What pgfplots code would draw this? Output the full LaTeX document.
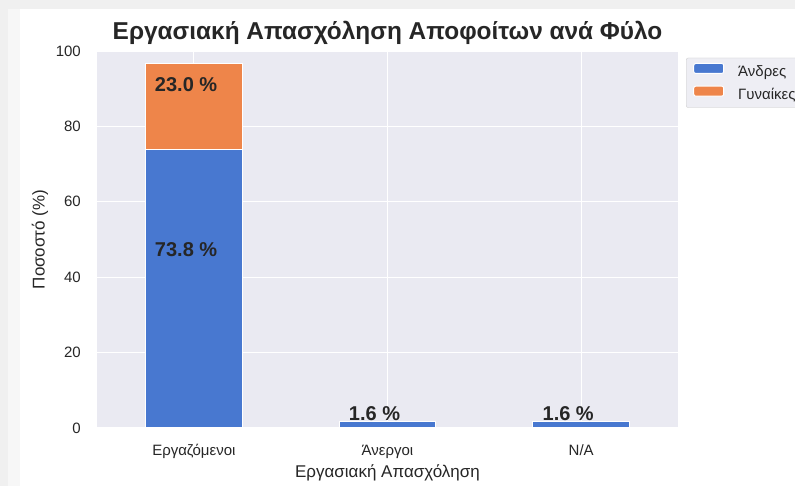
\documentclass[border=0pt]{standalone}
\usepackage{fontspec}
\setmainfont{Liberation Sans}
\usepackage{pgfplots}
\pgfplotsset{compat=1.18}
\definecolor{bgax}{HTML}{EAEAF2}
\definecolor{men}{HTML}{4878D0}
\definecolor{women}{HTML}{EE854A}
\definecolor{txt}{HTML}{262626}
\definecolor{legbg}{HTML}{EEEEF4}
\definecolor{legedge}{HTML}{CCCCCC}
\begin{document}
\begin{tikzpicture}[x=1bp,y=1bp]
\useasboundingbox (0,0) rectangle (795,486);
\fill[black!6] (0,0) rectangle (795,486);
\fill[black!3] (8,0) rectangle (20,477);
\fill[white] (20,0) rectangle (795,477);
\begin{axis}[
 at={(97bp,58bp)}, anchor=south west,
 scale only axis, width=581bp, height=377bp,
 xmin=-0.5, xmax=2.5, ymin=0, ymax=100,
 ybar stacked, bar width=0.5,
 axis background/.style={fill=bgax},
 axis line style={draw=none},
 major tick length=0pt,
 grid=major, grid style={white, line width=1.2bp},
 xtick={0,1,2}, xticklabels={Εργαζόμενοι,Άνεργοι,N/A},
 ytick={0,20,...,100},
 tick label style={font=\fontsize{15bp}{18bp}\selectfont, text=txt},
 /pgf/number format/assume math mode=true,
 yticklabel style={anchor=east, inner sep=0pt, xshift=-16bp},
 xticklabel style={anchor=base, inner sep=0pt, yshift=-28bp},
 xlabel={Εργασιακή Απασχόληση}, ylabel={Ποσοστό (\%)},
 label style={font=\fontsize{17bp}{20bp}\selectfont, text=txt},
 xlabel style={at={(axis description cs:0.5,0)}, anchor=base, inner sep=0pt, yshift=-50bp},
 ylabel style={at={(axis description cs:-0.0981,0.5)}, anchor=center, inner sep=0pt},
 title={Εργασιακή Απασχόληση Αποφοίτων ανά Φύλο},
 title style={at={(axis description cs:0.5,1)}, anchor=base, inner sep=0pt, yshift=6bp, font=\bfseries\fontsize{24.4bp}{28bp}\selectfont, text=txt},
 legend cell align=left,
 legend style={at={(axis description cs:1.0138,0.982)}, anchor=north west, fill=legbg, draw=legedge, rounded corners=2bp, font=\fontsize{15bp}{18bp}\selectfont, text=txt, inner xsep=7bp, inner ysep=5bp, row sep=6bp, column sep=12bp, cells={anchor=west, inner sep=0pt}},
 legend image code/.code={\fill[#1] (0bp,-2bp) rectangle (30bp,8bp);},
 clip=false,
]
\addplot[fill=men, draw=white, line width=1bp] coordinates {(0,73.8) (1,1.6) (2,1.6)};
\addplot[fill=women, draw=white, line width=1bp] coordinates {(0,23.0) (1,0) (2,0)};
\legend{Άνδρες,Γυναίκες}
\coordinate (la) at (axis cs:-0.04,47.3);
\coordinate (lb) at (axis cs:-0.04,91);
\coordinate (lc) at (axis cs:0.933,3.8);
\coordinate (ld) at (axis cs:1.933,3.8);
\end{axis}
\tikzset{lab/.style={font=\bfseries\fontsize{20bp}{24bp}\selectfont, text=txt}}
\node[lab] at (la) {73.8 \%};
\node[lab] at (lb) {23.0 \%};
\node[lab] at (lc) {1.6 \%};
\node[lab] at (ld) {1.6 \%};
\end{tikzpicture}
\end{document}
